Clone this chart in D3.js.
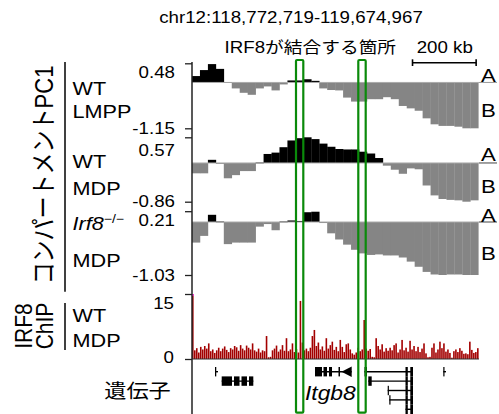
<!DOCTYPE html>
<html>
<head>
<meta charset="utf-8">
<script src="https://cdn.jsdelivr.net/npm/d3@7"></script>
<style>
body { margin: 0; background: #fff; }
text { font-family: "Liberation Sans", Arial, "Noto Sans CJK JP", sans-serif; fill: #000; }
</style>
</head>
<body>
<div id="chart"></div>
<script>
// region shown
const regionStart = 118772719, regionEnd = 119674967;
const binSize = 25000;     // compartment bins
const chipBin = 6266;      // ChIP bins

// compartment PC1 values, one per 25 kb bin
const lmppPC1 = [0.16,0.31,0.46,0.34,0.01,-0.15,-0.26,-0.31,-0.15,-0.10,
  -0.20,-0.05,0.05,0.05,0.08,0.04,-0.15,-0.19,-0.20,-0.38,
  -0.48,-0.48,-0.42,-0.42,-0.37,-0.42,-0.59,-0.65,-0.71,-0.90,
  -1.05,-1.09,-1.09,-1.11,-1.15,-1.15];
const mdpPC1 = [-0.23,-0.23,0.07,-0.02,-0.34,-0.27,-0.18,-0.18,0.01,0.20,
  0.23,0.35,0.50,0.55,0.57,0.53,0.43,0.36,0.31,0.30,
  0.30,0.25,0.21,0.11,-0.06,-0.15,-0.24,-0.12,-0.14,-0.50,
  -0.72,-0.80,-0.82,-0.83,-0.86,-0.83];
const koPC1 = [-0.40,-0.27,0.14,0.01,-0.43,-0.40,-0.40,-0.40,-0.09,-0.04,
  -0.16,0.01,0.03,0.02,0.19,0.20,-0.02,-0.22,-0.34,-0.44,
  -0.54,-0.61,-0.64,-0.63,-0.65,-0.65,-0.69,-0.77,-0.87,-0.97,
  -1.02,-1.03,-1.02,-1.02,-1.03,-1.03];

// IRF8 ChIP signal (WT MDP)
const chipWT = [16,2.0,2.5,1.5,2.8,2.2,3.0,2.4,3.6,1.8,2.2,1.4,2.0,2.6,1.8,2.4,2.9,2.1,1.6,2.5,2.2,3.0,2.7,1.9,3.2,2.4,2.0,3.1,2.6,
  2.2,3.6,2.0,1.7,2.4,1.5,2.0,1.8,5.3,0.4,
  0.5,2.0,2.4,3.1,1.7,2.2,3.2,1.9,4.8,1.8,
  2.2,3.6,1.6,2.3,1.5,13.4,3.8,2.0,2.4,1.8,
  2.6,5.3,6.7,3.0,3.8,2.2,2.9,1.9,4.8,2.4,
  3.2,4.0,2.1,2.8,1.8,4.4,2.8,1.6,3.4,3.6,
  2.2,1.3,1.0,1.5,2.6,1.8,2.2,9.0,2.4,1.9,
  2.3,0.5,0.4,4.8,3.0,2.2,3.4,1.7,2.5,1.9,
  2.6,2.0,3.2,3.6,1.5,2.2,4.4,2.0,2.6,1.7,
  4.2,2.2,3.0,1.8,2.8,1.6,2.4,3.6,1.3,0.4,
  0.5,2.6,3.6,1.5,2.2,4.0,2.5,3.6,1.7,2.2,
  1.4,0.3,1.8,2.2,1.6,2.5,1.9,1.2,1.3,1.1,
  4.0,2.1,1.4,1.6,2.5];

// axis tick labels
const lmppTicks = [0.48, -1.15];
const mdpTicks = [0.57, -0.86];
const koTicks = [0.21, -1.03];
const chipTicks = [15, 0];

// IRF8 binding sites (highlighted)
const irf8Sites = [[119099664, 119122613], [119295516, 119318780]];

// gene models
const transcripts = [
  {name: "", row: 0, start: 118845024, end: 118854455, strand: "+", exons: [[118845024, 118849000]]},
  {name: "", row: 1, start: 118866087, end: 118965428, strand: "+",
    exons: [[118866087, 118898467], [118904754, 118922045], [118928332, 118945623], [118951910, 118965428]]},
  {name: "Itgb8", row: 0, start: 119159394, end: 119274768, strand: "-",
    exons: [[119159394, 119181400], [119186116, 119197119], [119203406, 119212837], [119233271, 119237987]]},
  {name: "", row: 0, start: 119315007, end: 119467477, strand: "+",
    exons: [[119315007, 119322867], [119443899, 119451129], [119458989, 119467477]]},
  {name: "", row: 1, start: 119326953, end: 119467477, strand: "+",
    exons: [[119326953, 119337642], [119443899, 119451129], [119458989, 119467477]]},
  {name: "", row: 2, start: 119387941, end: 119467477, strand: "+",
    exons: [[119387941, 119391085], [119443899, 119451129], [119458989, 119467477]]},
  {name: "", row: 3, start: 119392971, end: 119467477, strand: "+",
    exons: [[119392971, 119396115], [119443899, 119451129], [119458989, 119467477]]},
  {name: "", row: 4, start: 119443899, end: 119467477, strand: "+",
    exons: [[119443899, 119451129], [119458989, 119467477]]},
  {name: "", row: 0, start: 119562731, end: 119571219, strand: "+", exons: [[119562731, 119566503]]}
];

const W = 499, H = 414;
const SX = 1.17;   // text in the figure is stretched horizontally
const left = 192, right = 479;
const posColor = "#000", negColor = "#858585", chipColor = "#a30000", siteColor = "#0a8a0a";

const svg = d3.select("#chart").append("svg")
  .attr("width", W).attr("height", H);

const x = d3.scaleLinear().domain([regionStart, regionEnd]).range([left, right]);

function txt(g, s, px, py, size, anchor, rot) {
  return g.append("text")
    .attr("transform", `translate(${px},${py}) scale(${SX},1)` + (rot ? " rotate(-90)" : ""))
    .attr("font-size", size)
    .attr("text-anchor", anchor || "start")
    .text(s);
}

const tracks = [
  {vals: lmppPC1, ticks: lmppTicks, top: 63.3, bottom: 128.3, topDy: 9, aY: 82, bY: 116.7, names: ["WT", "LMPP"], nameY: [95.3, 118.3]},
  {vals: mdpPC1, ticks: mdpTicks, top: 137.3, bottom: 201.7, topDy: 13, aY: 161, bY: 193.3, names: ["WT", "MDP"], nameY: [168.3, 195]},
  {vals: koPC1, ticks: koTicks, top: 211.2, bottom: 275, topDy: 9.5, aY: 221.5, bY: 260, names: ["Irf8", "MDP"], nameY: [230, 266.7]}
];

tracks.forEach(function(t, ti) {
  const y = d3.scaleLinear().domain([t.ticks[1], t.ticks[0]]).range([t.bottom, t.top]);
  const g = svg.append("g");

  g.selectAll("rect").data(t.vals).enter().append("rect")
    .attr("x", (d, i) => x(regionStart + i * binSize))
    .attr("width", (d, i) => x(regionStart + (i + 1) * binSize) - x(regionStart + i * binSize) + 0.3)
    .attr("y", d => y(Math.max(0, d)))
    .attr("height", d => Math.max(0.8, Math.abs(y(d) - y(0))))
    .attr("fill", d => d >= 0 ? posColor : negColor);

  g.append("line")
    .attr("x1", left).attr("x2", right).attr("y1", y(0)).attr("y2", y(0))
    .attr("stroke", "#aaa").attr("stroke-width", 1);
  g.append("line")
    .attr("x1", right).attr("x2", 497).attr("y1", y(0)).attr("y2", y(0))
    .attr("stroke", ti == 0 ? "#999" : "#444").attr("stroke-width", 1);

  const ax = svg.append("g")
    .attr("transform", `translate(${left},0)`)
    .call(d3.axisLeft(y).tickValues(t.ticks).tickSize(7).tickSizeOuter(0).tickFormat(d => d.toFixed(2)));
  ax.select(".domain").remove();
  ax.selectAll("line").attr("stroke", "#222").attr("stroke-width", 1.3);
  ax.selectAll("text")
    .attr("font-size", 16)
    .attr("x", -17 / SX)
    .attr("transform", `scale(${SX},1)`)
    .attr("y", d => d == t.ticks[0] ? t.topDy : 0)
    .style("font-family", null);

  txt(svg, "A", 481, t.aY, 19);
  txt(svg, "B", 481, t.bY, 19);

  if (t.names[0] == "Irf8") {
    const lab = txt(svg, "", 72.5, t.nameY[0], 18.5);
    lab.append("tspan").attr("font-style", "italic").text("Irf8");
    lab.append("tspan").attr("font-size", 12).attr("dy", -7).text("\u2212/\u2212");
  } else {
    txt(svg, t.names[0], 72.5, t.nameY[0], 18.5);
  }
  txt(svg, t.names[1], 72.5, t.nameY[1], 18.5);
});

// ChIP track
const chipTop = 294, chipBottom = 359;
const yc = d3.scaleLinear().domain([0, 15]).range([chipBottom, chipTop]);
svg.append("g").selectAll("rect").data(chipWT).enter().append("rect")
  .attr("x", (d, i) => x(regionStart + i * chipBin))
  .attr("width", 1.6)
  .attr("y", d => yc(Math.min(d, 15)))
  .attr("height", d => chipBottom - yc(Math.min(d, 15)))
  .attr("fill", chipColor);
svg.append("g").selectAll("rect").data(chipWT.filter(d => d > 15)).enter().append("rect")
  .attr("x", (d, i) => x(regionStart + chipWT.indexOf(d) * chipBin))
  .attr("width", 1.6).attr("y", yc(15)).attr("height", 2)
  .attr("fill", "#ff33ff");
svg.append("line")
  .attr("x1", left).attr("x2", right).attr("y1", chipBottom).attr("y2", chipBottom)
  .attr("stroke", "#333").attr("stroke-width", 1);

const axc = svg.append("g")
  .attr("transform", `translate(${left},0)`)
  .call(d3.axisLeft(yc).tickValues(chipTicks).tickSize(7).tickSizeOuter(0).tickFormat(d3.format("d")));
axc.select(".domain").remove();
axc.selectAll("line").attr("stroke", "#222").attr("stroke-width", 1.3);
axc.selectAll("text")
  .attr("font-size", 16)
  .attr("x", -18 / SX)
  .attr("transform", `scale(${SX},1)`)
  .attr("y", d => d == 15 ? 9 : -1.5)
  .style("font-family", null);

txt(svg, "WT", 72.5, 321.7, 18.5);
txt(svg, "MDP", 72.5, 346.7, 18.5);

// vertical axis line
svg.append("line")
  .attr("x1", left).attr("x2", left).attr("y1", 62).attr("y2", H)
  .attr("stroke", "#222").attr("stroke-width", 1.5);

// genes
const rowY = d3.scaleLinear().domain([0, 4]).range([371.7, 409.3]);
const exonH = 9.4;
const gg = svg.append("g");
transcripts.forEach(function(tr) {
  const cy = rowY(tr.row);
  gg.append("line")
    .attr("x1", x(tr.start)).attr("x2", x(tr.end)).attr("y1", cy).attr("y2", cy)
    .attr("stroke", "#000").attr("stroke-width", 1.4);
  gg.selectAll(null).data(tr.exons).enter().append("rect")
    .attr("x", d => x(d[0]))
    .attr("width", d => Math.max(1.2, x(d[1]) - x(d[0])))
    .attr("y", cy - exonH / 2).attr("height", exonH)
    .attr("fill", "#000");
  if (tr.strand == "-") {
    const lastEx = tr.exons[tr.exons.length - 1][1];
    const tip = x(lastEx) + 1.5, base = x(tr.end);
    gg.append("path")
      .attr("d", `M${tip},${cy}L${base},${cy - exonH / 2 - 0.5}L${base},${cy + exonH / 2 + 0.5}Z`)
      .attr("fill", "#000");
  }
  if (tr.name) {
    txt(gg, tr.name, x((tr.start + tr.end) / 2) - 3, 400, 19.5, "middle")
      .attr("font-style", "italic");
  }
});

// left side labels
svg.append("line").attr("x1", 65).attr("x2", 65).attr("y1", 62).attr("y2", 291.7)
  .attr("stroke", "#000").attr("stroke-width", 1.5);
svg.append("line").attr("x1", 65).attr("x2", 65).attr("y1", 303).attr("y2", 350)
  .attr("stroke", "#000").attr("stroke-width", 1.5);
txt(svg, "コンパートメントPC1", 53, 175, 22, "middle", true);
txt(svg, "IRF8", 31.5, 326, 21, "middle", true);
txt(svg, "ChIP", 53, 326, 21, "middle", true);
txt(svg, "遺伝子", 137.5, 398, 19, "middle");

// header
txt(svg, "chr12:" + d3.format(",")(regionStart) + "-" + d3.format(",")(regionEnd), 291, 23.3, 16, "middle");
txt(svg, "IRF8が結合する箇所", 310.3, 52.5, 16, "middle");
txt(svg, "200 kb", 416.7, 53, 16);

// scale bar
const sbEnd = regionEnd - 9000, sbStart = sbEnd - 200000;
const sb = svg.append("g").attr("stroke", "#000").attr("stroke-width", 1.6);
sb.append("line").attr("x1", x(sbStart)).attr("x2", x(sbEnd)).attr("y1", 62.7).attr("y2", 62.7);
sb.append("line").attr("x1", x(sbStart)).attr("x2", x(sbStart)).attr("y1", 59.3).attr("y2", 66);
sb.append("line").attr("x1", x(sbEnd)).attr("x2", x(sbEnd)).attr("y1", 59.3).attr("y2", 66);

// IRF8 binding site boxes
svg.append("g").selectAll("rect").data(irf8Sites).enter().append("rect")
  .attr("x", d => x(d[0]))
  .attr("width", d => x(d[1]) - x(d[0]))
  .attr("y", 60).attr("height", 352.7)
  .attr("rx", 1)
  .attr("fill", "none")
  .attr("stroke", siteColor)
  .attr("stroke-width", 2.2);
</script>
</body>
</html>
